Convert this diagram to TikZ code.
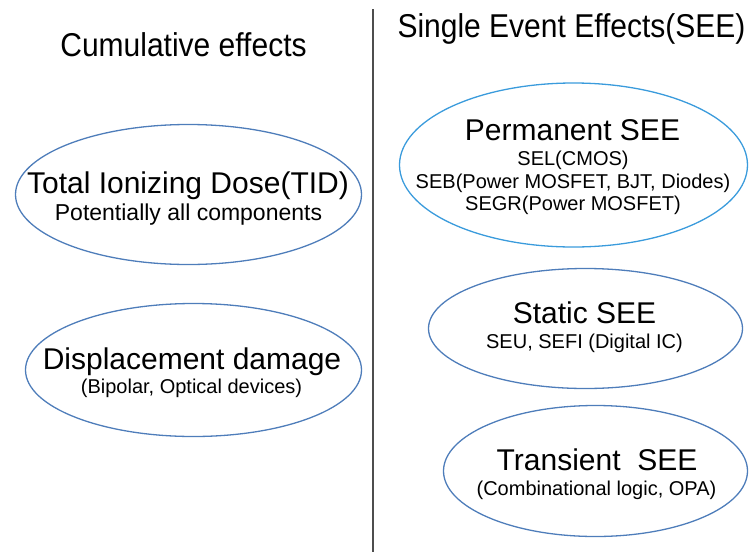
\documentclass[tikz,border=0pt]{standalone}
\usepackage{fontspec}
\setmainfont{Liberation Sans}
\usetikzlibrary{shapes.geometric}
\definecolor{ovalblue}{HTML}{4E7DBA}
\definecolor{ovalcyan}{HTML}{3A9BDC}
\definecolor{divgray}{HTML}{4D4D4D}
\tikzset{
    effect/.style={ellipse, draw=ovalblue, line width=1.3pt, inner sep=0pt},
    headtxt/.style={anchor=base, inner sep=0pt, font=\fontsize{30}{36}\selectfont, yscale=1.1},
    maintxt/.style={anchor=base, inner sep=0pt, font=\fontsize{30}{36}\selectfont},
    subtxt/.style={anchor=base, inner sep=0pt, font=\fontsize{20}{24}\selectfont},
}
\begin{document}
\begin{tikzpicture}[x=1pt,y=-1pt]
\useasboundingbox (0,0) rectangle (750,552);

% Headings
\node[headtxt] (cumhead) at (183.5,56) {Cumulative effects};
\node[headtxt] (seehead) at (571.5,37) {Single Event Effects(SEE)};

% Divider
\coordinate (divtop) at (373,9);
\coordinate (divbot) at (373,552);
\draw[divgray, line width=1.4pt] (divtop) -- (divbot);

% Cumulative effects
\node[effect, minimum width=346, minimum height=140] (tid) at (188.5,194.5) {};
\node[effect, minimum width=336, minimum height=133] (disp) at (193.5,370) {};

% Single event effects
\node[effect, draw=ovalcyan, minimum width=348, minimum height=164] (perm) at (573.5,165) {};
\node[effect, minimum width=314, minimum height=120] (static) at (585.5,328.5) {};
\node[effect, minimum width=304, minimum height=131] (trans) at (595.5,471) {};

% Labeling
\node[maintxt] (tidA) at (188,193) {Total Ionizing Dose(TID)};
\node[subtxt, font=\fontsize{23}{27}\selectfont] (tidB) at (188.5,220) {Potentially all components};
\node[maintxt] (dispA) at (192,369) {Displacement damage};
\node[subtxt] (dispB) at (191.5,393) {(Bipolar, Optical devices)};

\node[maintxt] (permA) at (572.5,140) {Permanent SEE};
\node[subtxt] (permB) at (573,165) {SEL(CMOS)};
\node[subtxt] (permC) at (573,188) {SEB(Power MOSFET, BJT, Diodes)};
\node[subtxt] (permD) at (573,210) {SEGR(Power MOSFET)};

\node[maintxt] (staticA) at (584.5,323) {Static SEE};
\node[subtxt] (staticB) at (584.5,348) {SEU, SEFI (Digital IC)};

\node[maintxt] (transA) at (597,470) {Transient\ \ SEE};
\node[subtxt] (transB) at (596.5,495) {(Combinational logic, OPA)};

\end{tikzpicture}
\end{document}
